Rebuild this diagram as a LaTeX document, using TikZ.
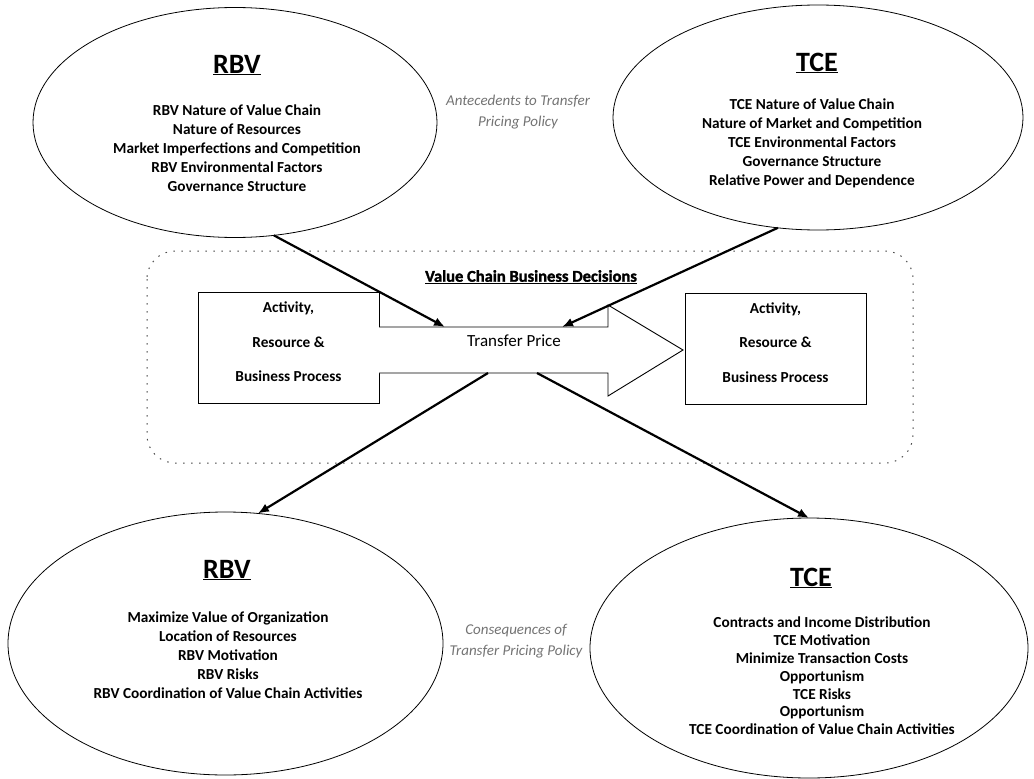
\documentclass[tikz,border=0pt]{standalone}
\usepackage{fontspec}
\setmainfont{Carlito}
\newfontfamily\heavyfont{Carlito}[FakeBold=1.6]
\usetikzlibrary{shapes.geometric,arrows.meta}
\begin{document}
\begin{tikzpicture}[x=1pt,y=-1pt,
  oval/.style={draw, ellipse, inner sep=0pt, outer sep=0pt, line width=0.8pt},
  body/.style={font=\bfseries\fontsize{15.3}{19}\selectfont, align=center, inner sep=0pt},
  bodytight/.style={font=\bfseries\fontsize{15.3}{17.8}\selectfont, align=center, inner sep=0pt},
  ttl/.style={font=\bfseries\fontsize{28}{30}\selectfont, inner sep=0pt},
  boxtext/.style={font=\bfseries\fontsize{15.3}{34.5}\selectfont, align=center, inner sep=0pt},
  actbox/.style={draw, rectangle, line width=1pt, minimum width=181pt, minimum height=111pt, inner sep=0pt},
  note/.style={font=\itshape\fontsize{15}{21}\selectfont, text=black!55, align=center, inner sep=0pt},
  conn/.style={line width=2.2pt, -{Latex[length=11pt,width=9pt]}},
  frame/.style={draw=black!70, line width=1pt, dash pattern=on 1.5pt off 6.5pt, rounded corners=28pt},
  bigarrow/.style={draw, line width=0.9pt, fill=white}
]
\useasboundingbox (0,0) rectangle (1034,779);

% dotted frame
\draw[frame] (147,251) rectangle (913,463);

% ellipses
\node[oval, minimum width=404pt, minimum height=230pt] (rbvA) at (235,122.5) {};
\node[oval, minimum width=410pt, minimum height=225pt] (tceA) at (818,117.5) {};
\node[oval, minimum width=435pt, minimum height=263pt] (rbvC) at (225.5,643.5) {};
\node[oval, minimum width=438pt, minimum height=260pt] (tceC) at (809,648) {};

% ellipse texts
\node[ttl] (rbvAt) at (237,65) {\underline{RBV}};
\node[body] (rbvAb) at (237,148) {RBV Nature of Value Chain\\Nature of Resources\\Market Imperfections and Competition\\RBV Environmental Factors\\Governance Structure};

\node[ttl] (tceAt) at (817,63) {\underline{TCE}};
\node[body] (tceAb) at (812,143) {TCE Nature of Value Chain\\Nature of Market and Competition\\TCE Environmental Factors\\Governance Structure\\Relative Power and Dependence};

\node[ttl] (rbvCt) at (227,570) {\underline{RBV}};
\node[body] (rbvCb) at (228,655) {Maximize Value of Organization\\Location of Resources\\RBV Motivation\\RBV Risks\\RBV Coordination of Value Chain Activities};

\node[ttl] (tceCt) at (811,578) {\underline{TCE}};
\node[bodytight] (tceCb) at (822,676) {Contracts and Income Distribution\\TCE Motivation\\Minimize Transaction Costs\\Opportunism\\TCE Risks\\Opportunism\\TCE Coordination of Value Chain Activities};

% notes
\node[note] (ante) at (518,112) {Antecedents to Transfer\\Pricing Policy};
\node[note] (cons) at (516,641) {Consequences of\\Transfer Pricing Policy};

% frame title
\node[font=\heavyfont\bfseries\fontsize{16.5}{18}\selectfont, inner sep=0pt] (vcbd) at (531,277) {\underline{Value Chain Business Decisions}};

% boxes
\node[actbox] (boxL) at (288.5,347.5) {};
\node[actbox] (boxR) at (775.5,348.5) {};
\node[boxtext] (boxLt) at (288.5,342) {Activity,\\Resource \&\\Business Process};
\node[boxtext] (boxRt) at (775.5,342.5) {Activity,\\Resource \&\\Business Process};

% big arrow
\coordinate (s1) at (379,327);
\coordinate (s2) at (608,327);
\coordinate (h1) at (608,305);
\coordinate (tip) at (683,350);
\coordinate (h2) at (608,396);
\coordinate (s3) at (608,373);
\coordinate (s4) at (379,373);
\draw[bigarrow] (s1) -- (s2) -- (h1) -- (tip) -- (h2) -- (s3) -- (s4);
\node[font=\fontsize{17}{19}\selectfont, inner sep=0pt] (tp) at (514,341) {Transfer Price};

% connector endpoints on the shaft
\coordinate (inL) at (445,327);
\coordinate (inR) at (562,327);
\coordinate (outL) at (488,373);
\coordinate (outR) at (537,373);

% connectors
\draw[conn] (rbvA.-71.4) -- (inL);
\draw[conn] (tceA.-110.1) -- (inR);
\draw[conn] (outL) -- (rbvC.76.7);
\draw[conn] (outR) -- (tceC.north);
\end{tikzpicture}
\end{document}
